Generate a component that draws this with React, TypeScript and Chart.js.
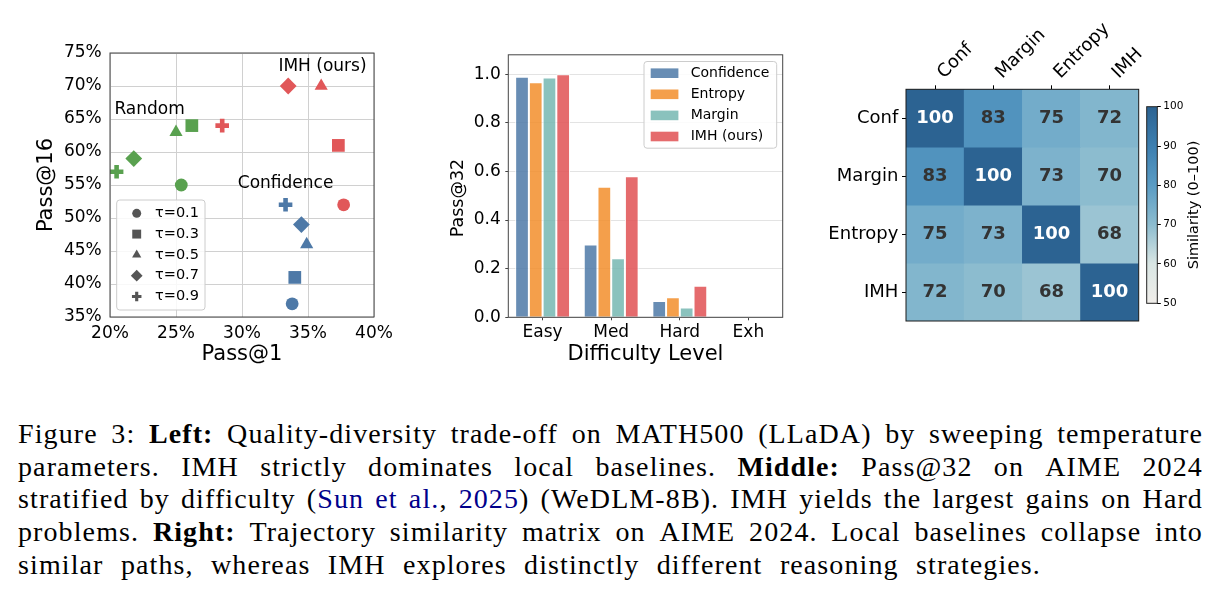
import React, { useEffect, useRef } from 'react';
import { Chart, registerables } from 'chart.js';

Chart.register(...registerables);

const SANS = "'DejaVu Sans', 'Liberation Sans', sans-serif";

// ---------- Left: quality-diversity trade-off (Pass@1 vs Pass@16) ----------
const tauLabels = ['τ=0.1', 'τ=0.3', 'τ=0.5', 'τ=0.7', 'τ=0.9'];
const methodNames = ['Random', 'IMH (ours)', 'Confidence'];
const randomPass1 = [25.4, 26.2, 25.0, 21.8, 20.5];
const randomPass16 = [55, 64, 63, 59, 57];
const imhPass1 = [37.7, 37.3, 36.0, 33.5, 28.5];
const imhPass16 = [52, 61, 70, 70, 64];
const confPass1 = [33.8, 34.0, 34.9, 34.5, 33.3];
const confPass16 = [37, 41, 46, 49, 52];

// ---------- Middle: Pass@32 by difficulty ----------
const difficultyLevels = ['Easy', 'Med', 'Hard', 'Exh'];
const barMethods = ['Confidence', 'Entropy', 'Margin', 'IMH (ours)'];
const confidencePass32 = [0.99, 0.3, 0.067, 0];
const entropyPass32 = [0.967, 0.537, 0.083, 0];
const marginPass32 = [0.987, 0.243, 0.04, 0];
const imhPass32 = [1.0, 0.58, 0.13, 0];

// ---------- Right: trajectory similarity matrix ----------
const simLabels = ['Conf', 'Margin', 'Entropy', 'IMH'];
const simConf = [100, 83, 75, 72];
const simMargin = [83, 100, 73, 70];
const simEntropy = [75, 73, 100, 68];
const simImh = [72, 70, 68, 100];

// ---------- styles ----------
const markerStyles = ['circle', 'rect', 'triangle', 'rectRot', 'cross'];
const markerRadius = [6.4, 9, 7.6, 8.4, 6.8];
const markerBorder = [0, 0, 0, 0, 4.6];
const methodColors = ['#59a14f', '#e15759', '#4e79a7'];
// text anchors for the method names, in data units (Pass@1, Pass@16)
const methodNoteAt = [
  [23.0, 66.5],
  [36.1, 72.9],
  [33.3, 55.15],
];
const barColors = [
  'rgba(78,121,167,0.85)',
  'rgba(242,142,43,0.85)',
  'rgba(118,183,178,0.85)',
  'rgba(225,87,89,0.88)',
];
const cmapStops = [50, 60, 70, 80, 90, 100];
const cmapColors = ['#f1eeea', '#d9e6e4', '#8cbccf', '#5a9cc4', '#3d7fb0', '#2c6392'];

function hexToRgb(h: string) {
  const n = parseInt(h.slice(1), 16);
  return [(n >> 16) & 255, (n >> 8) & 255, n & 255];
}

function cmap(v: number) {
  const t = Math.max(cmapStops[0], Math.min(cmapStops[cmapStops.length - 1], v));
  let i = 0;
  while (i < cmapStops.length - 2 && t > cmapStops[i + 1]) i++;
  const f = (t - cmapStops[i]) / (cmapStops[i + 1] - cmapStops[i]);
  const a = hexToRgb(cmapColors[i]);
  const b = hexToRgb(cmapColors[i + 1]);
  const c = a.map((x, k) => Math.round(x + (b[k] - x) * f));
  return `rgb(${c[0]},${c[1]},${c[2]})`;
}

const baseOptions = {
  responsive: false,
  animation: false,
  devicePixelRatio: 1,
  events: [],
  plugins: { legend: { display: false }, tooltip: { enabled: false } },
};

function framePlugin(color: string) {
  return {
    id: 'frame',
    afterDraw(chart: any) {
      const { ctx, chartArea: a } = chart;
      ctx.save();
      ctx.strokeStyle = color;
      ctx.lineWidth = 1;
      ctx.strokeRect(a.left, a.top, a.right - a.left, a.bottom - a.top);
      ctx.restore();
    },
  };
}

function drawMarker(ctx: CanvasRenderingContext2D, style: string, cx: number, cy: number, r: number) {
  ctx.beginPath();
  if (style === 'circle') {
    ctx.arc(cx, cy, r, 0, Math.PI * 2);
    ctx.fill();
  } else if (style === 'rect') {
    const s = r * Math.SQRT1_2;
    ctx.rect(cx - s, cy - s, 2 * s, 2 * s);
    ctx.fill();
  } else if (style === 'triangle') {
    ctx.moveTo(cx, cy - r);
    ctx.lineTo(cx + r * 0.866, cy + r / 2);
    ctx.lineTo(cx - r * 0.866, cy + r / 2);
    ctx.closePath();
    ctx.fill();
  } else if (style === 'rectRot') {
    ctx.moveTo(cx - r, cy);
    ctx.lineTo(cx, cy - r);
    ctx.lineTo(cx + r, cy);
    ctx.lineTo(cx, cy + r);
    ctx.closePath();
    ctx.fill();
  } else {
    ctx.lineWidth = r * 0.66;
    ctx.moveTo(cx - r, cy);
    ctx.lineTo(cx + r, cy);
    ctx.moveTo(cx, cy - r);
    ctx.lineTo(cx, cy + r);
    ctx.stroke();
  }
}

const scatterNotes = {
  id: 'scatterNotes',
  afterDatasetsDraw(chart: any) {
    const { ctx, scales } = chart;
    ctx.save();
    ctx.font = `17px ${SANS}`;
    ctx.fillStyle = '#000';
    ctx.textAlign = 'center';
    ctx.textBaseline = 'middle';
    methodNames.forEach((m, i) => {
      ctx.fillText(m, scales.x.getPixelForValue(methodNoteAt[i][0]), scales.y.getPixelForValue(methodNoteAt[i][1]));
    });
    ctx.restore();
  },
};

const tauLegend = {
  id: 'tauLegend',
  afterDraw(chart: any) {
    const { ctx, chartArea: a } = chart;
    const w = 88.3;
    const h = 110;
    const x0 = a.left + 6.7;
    const y0 = a.bottom - 7 - h;
    ctx.save();
    ctx.fillStyle = 'rgba(255,255,255,0.85)';
    ctx.strokeStyle = '#cccccc';
    ctx.lineWidth = 1;
    ctx.beginPath();
    ctx.roundRect(x0, y0, w, h, 3);
    ctx.fill();
    ctx.stroke();
    ctx.font = `14.5px ${SANS}`;
    ctx.textBaseline = 'middle';
    ctx.textAlign = 'left';
    tauLabels.forEach((t, i) => {
      const cy = y0 + 13.3 + i * 20.8;
      ctx.fillStyle = '#555555';
      ctx.strokeStyle = '#555555';
      drawMarker(ctx, markerStyles[i], x0 + 20, cy, markerRadius[i] * 0.7);
      ctx.fillStyle = '#000';
      ctx.fillText(t, x0 + 38.3, cy);
    });
    ctx.restore();
  },
};

function scatterConfig(): any {
  const series = [
    { xs: randomPass1, ys: randomPass16 },
    { xs: imhPass1, ys: imhPass16 },
    { xs: confPass1, ys: confPass16 },
  ];
  const tickFont = { family: SANS, size: 17 };
  const titleFont = { family: SANS, size: 21 };
  return {
    type: 'scatter',
    data: {
      datasets: series.map((s, i) => ({
        label: methodNames[i],
        data: s.xs.map((x, j) => ({ x, y: s.ys[j] })),
        backgroundColor: methodColors[i],
        borderColor: methodColors[i],
        pointStyle: markerStyles,
        pointRadius: markerRadius,
        pointHoverRadius: markerRadius,
        pointBorderWidth: markerBorder,
        pointHoverBorderWidth: markerBorder,
      })),
    },
    options: {
      ...baseOptions,
      layout: { padding: { left: 0, top: 23, right: 26, bottom: 0 } },
      scales: {
        x: {
          type: 'linear',
          min: 20,
          max: 40,
          ticks: { stepSize: 5, callback: (v: number) => `${v}%`, font: tickFont, color: '#000', padding: 6.5 },
          grid: { color: '#d0d0d0', drawTicks: false },
          border: { display: false },
          title: { display: true, text: 'Pass@1', font: titleFont, color: '#000', padding: { top: 12.4, bottom: 12.4 } },
          afterFit: (s: any) => {
            s.height = 63;
          },
        },
        y: {
          type: 'linear',
          min: 35,
          max: 75,
          ticks: { stepSize: 5, callback: (v: number) => `${v}%`, font: tickFont, color: '#000', padding: 8.3 },
          grid: { color: '#d0d0d0', drawTicks: false },
          border: { display: false },
          title: { display: true, text: 'Pass@16', font: titleFont, color: '#000', padding: { top: 14.1, bottom: 14.1 } },
          afterFit: (s: any) => {
            s.width = 90;
          },
        },
      },
    },
    plugins: [framePlugin('#444'), scatterNotes, tauLegend],
  };
}

const barLegend = {
  id: 'barLegend',
  afterDraw(chart: any) {
    const { ctx, chartArea: a } = chart;
    const w = 132.7;
    const h = 86.7;
    const x0 = a.right - 6 - w;
    const y0 = a.top + 6.7;
    ctx.save();
    ctx.fillStyle = 'rgba(255,255,255,0.85)';
    ctx.strokeStyle = '#cccccc';
    ctx.lineWidth = 1;
    ctx.beginPath();
    ctx.roundRect(x0, y0, w, h, 3);
    ctx.fill();
    ctx.stroke();
    ctx.font = `14px ${SANS}`;
    ctx.textBaseline = 'middle';
    ctx.textAlign = 'left';
    chart.data.datasets.forEach((ds: any, i: number) => {
      const cy = y0 + 11.7 + i * 21.1;
      ctx.fillStyle = ds.backgroundColor;
      ctx.fillRect(x0 + 6.7, cy - 4.8, 27.7, 9.6);
      ctx.fillStyle = '#000';
      ctx.fillText(ds.label, x0 + 46.7, cy);
    });
    ctx.restore();
  },
};

// vertical axis title of the bar panel, drawn beside the tick labels
const barYTitle = {
  id: 'barYTitle',
  afterDraw(chart: any) {
    const { ctx } = chart;
    ctx.save();
    ctx.translate(28, 158);
    ctx.rotate(-Math.PI / 2);
    ctx.font = `17.5px ${SANS}`;
    ctx.fillStyle = '#000';
    ctx.textAlign = 'center';
    ctx.textBaseline = 'middle';
    ctx.fillText('Pass@32', 0, 0);
    ctx.restore();
  },
};

function barConfig(): any {
  const series = [confidencePass32, entropyPass32, marginPass32, imhPass32];
  const tickFont = { family: SANS, size: 17 };
  const titleFont = { family: SANS, size: 21 };
  return {
    type: 'bar',
    data: {
      labels: difficultyLevels,
      datasets: barMethods.map((m, i) => ({
        label: m,
        data: series[i],
        backgroundColor: barColors[i],
        borderColor: '#ffffff',
        borderWidth: 1,
        categoryPercentage: 0.8,
        barPercentage: 1,
      })),
    },
    options: {
      ...baseOptions,
      layout: { padding: { left: 0, top: 13.3, right: 17.3, bottom: 0 } },
      scales: {
        x: {
          ticks: { font: tickFont, color: '#000', padding: 2 },
          grid: { offset: false, drawOnChartArea: false, drawTicks: true, tickLength: 3, tickColor: '#444' },
          border: { display: false },
          title: { display: true, text: 'Difficulty Level', font: titleFont, color: '#000', padding: { top: 12.4, bottom: 12.4 } },
          afterFit: (s: any) => {
            s.height = 62.7;
          },
        },
        y: {
          min: 0,
          max: 1.08,
          ticks: { stepSize: 0.2, includeBounds: false, callback: (v: number) => v.toFixed(1), font: tickFont, color: '#000', padding: 4.6 },
          grid: { color: '#e3e3e3', drawTicks: true, tickLength: 3, tickColor: '#444' },
          border: { display: false },
          afterFit: (s: any) => {
            s.width = 78.3;
          },
        },
      },
    },
    plugins: [framePlugin('#444'), barLegend, barYTitle],
  };
}

const simRows = [simConf, simMargin, simEntropy, simImh];

const cellValues = {
  id: 'cellValues',
  afterDatasetsDraw(chart: any) {
    const { ctx } = chart;
    ctx.save();
    ctx.font = `bold 18px ${SANS}`;
    ctx.textAlign = 'center';
    ctx.textBaseline = 'middle';
    simRows.forEach((row, r) => {
      chart.getDatasetMeta(r).data.forEach((el: any, c: number) => {
        const p = el.getCenterPoint();
        ctx.fillStyle = row[c] >= 90 ? '#ffffff' : '#333333';
        ctx.fillText(String(row[c]), p.x, p.y);
      });
    });
    ctx.restore();
  },
};

function heatmapConfig(): any {
  const labelFont = { family: SANS, size: 18 };
  const tickGrid = { offset: false, drawOnChartArea: false, drawTicks: true, tickLength: 4, tickColor: '#000' };
  return {
    type: 'bar',
    data: {
      labels: simLabels,
      datasets: simRows.map((row, r) => ({
        label: simLabels[r],
        data: row.map(() => [r, r + 1]),
        backgroundColor: row.map(cmap),
        borderWidth: 0,
        grouped: false,
        categoryPercentage: 1,
        barPercentage: 1,
      })),
    },
    options: {
      ...baseOptions,
      layout: { padding: { left: 0, top: 0, right: 7.3, bottom: 19 } },
      scales: {
        x: {
          position: 'top',
          offset: true,
          ticks: { font: labelFont, color: '#000', minRotation: 45, maxRotation: 45, autoSkip: false, padding: 2, labelOffset: 21 },
          grid: tickGrid,
          border: { display: false },
          afterFit: (s: any) => {
            s.height = 79.3;
          },
        },
        y: {
          type: 'linear',
          min: 0,
          max: simLabels.length,
          reverse: true,
          afterBuildTicks: (s: any) => {
            s.ticks = simLabels.map((_, i) => ({ value: i + 0.5 }));
          },
          ticks: { callback: (v: number) => simLabels[Math.floor(v)], font: labelFont, color: '#000', padding: 3.7, autoSkip: false },
          grid: tickGrid,
          border: { display: false },
          afterFit: (s: any) => {
            s.width = 106;
          },
        },
      },
    },
    plugins: [cellValues, framePlugin('#1a1a1a')],
  };
}

const colorbarTitle = {
  id: 'colorbarTitle',
  afterDraw(chart: any) {
    const { ctx, chartArea: a } = chart;
    ctx.save();
    ctx.translate(52.3, (a.top + a.bottom) / 2);
    ctx.rotate(-Math.PI / 2);
    ctx.font = `14.5px ${SANS}`;
    ctx.fillStyle = '#000';
    ctx.textAlign = 'center';
    ctx.textBaseline = 'middle';
    ctx.fillText('Similarity (0–100)', 0, 0);
    ctx.restore();
  },
};

function colorbarConfig(): any {
  const lo = cmapStops[0];
  const hi = cmapStops[cmapStops.length - 1];
  return {
    type: 'bar',
    data: {
      labels: [''],
      datasets: [
        {
          data: [[lo, hi]],
          backgroundColor: (c: any) => {
            const chart = c.chart;
            if (!chart.chartArea) return cmapColors[0];
            const ys = chart.scales.y;
            const g = chart.ctx.createLinearGradient(0, ys.getPixelForValue(lo), 0, ys.getPixelForValue(hi));
            cmapStops.forEach((s, i) => g.addColorStop((s - lo) / (hi - lo), cmapColors[i]));
            return g;
          },
          borderWidth: 0,
          categoryPercentage: 1,
          barPercentage: 1,
        },
      ],
    },
    options: {
      ...baseOptions,
      layout: { padding: { left: 4.7, top: 16.7, right: 0, bottom: 16.7 } },
      scales: {
        x: { display: false },
        y: {
          position: 'right',
          min: lo,
          max: hi,
          ticks: { stepSize: 10, font: { family: SANS, size: 10.5 }, color: '#000', padding: 2.5 },
          grid: { drawOnChartArea: false, drawTicks: true, tickLength: 3.5, tickColor: '#000' },
          border: { display: false },
          afterFit: (s: any) => {
            s.width = 66.7;
          },
        },
      },
    },
    plugins: [framePlugin('#222'), colorbarTitle],
  };
}

function ChartCanvas({ left, top, width, height, build }: any) {
  const ref = useRef<HTMLCanvasElement>(null);
  useEffect(() => {
    const chart = new Chart(ref.current as HTMLCanvasElement, build());
    return () => chart.destroy();
  }, []);
  return (
    <canvas
      ref={ref}
      width={width}
      height={height}
      style={{ position: 'absolute', left, top, width, height }}
    />
  );
}

// ---------- caption ----------
const captionLines = [
  'Figure 3: **Left:** Quality-diversity trade-off on MATH500 (LLaDA) by sweeping temperature',
  'parameters. IMH strictly dominates local baselines. **Middle:** Pass@32 on AIME 2024',
  'stratified by difficulty ([[Sun]] [[et]] [[al.]], [[2025]]) (WeDLM-8B). IMH yields the largest gains on Hard',
  'problems. **Right:** Trajectory similarity matrix on AIME 2024. Local baselines collapse into',
  'similar paths, whereas IMH explores distinctly different reasoning strategies.',
];
const captionWidth = 1185;
const lastLineWidth = 1023;

function renderWord(word: string, key: number) {
  const parts = word.split(/(\*\*[^*]+\*\*|\[\[[^\]]+\]\])/).filter(Boolean);
  return (
    <span key={key}>
      {parts.map((p, i) => {
        if (p.startsWith('**')) return <b key={i}>{p.slice(2, -2)}</b>;
        if (p.startsWith('[[')) return <span key={i} style={{ color: '#00008b' }}>{p.slice(2, -2)}</span>;
        return <React.Fragment key={i}>{p}</React.Fragment>;
      })}
    </span>
  );
}

function Caption() {
  return (
    <div
      style={{
        position: 'absolute',
        left: 18,
        top: 418.3,
        fontFamily: "'Liberation Serif', 'DejaVu Serif', serif",
        fontSize: 28,
        letterSpacing: '1.1px',
        lineHeight: '32.6px',
        color: '#000',
      }}
    >
      {captionLines.map((line, i) => (
        <div
          key={i}
          style={{
            display: 'flex',
            justifyContent: 'space-between',
            alignItems: 'baseline',
            width: i === captionLines.length - 1 ? lastLineWidth : captionWidth,
            height: 32.6,
            whiteSpace: 'nowrap',
          }}
        >
          {line.split(' ').map((w, j) => renderWord(w, j))}
        </div>
      ))}
    </div>
  );
}

export default function App() {
  return (
    <div style={{ position: 'absolute', left: 0, top: 0, width: 1224, height: 600, background: '#fff', overflow: 'hidden' }}>
      <ChartCanvas left={20} top={30} width={380} height={350} build={scatterConfig} />
      <ChartCanvas left={430} top={40} width={370} height={340} build={barConfig} />
      <ChartCanvas left={800} top={10} width={346} height={330} build={heatmapConfig} />
      <ChartCanvas left={1142} top={90} width={82} height={230} build={colorbarConfig} />
      <Caption />
    </div>
  );
}
